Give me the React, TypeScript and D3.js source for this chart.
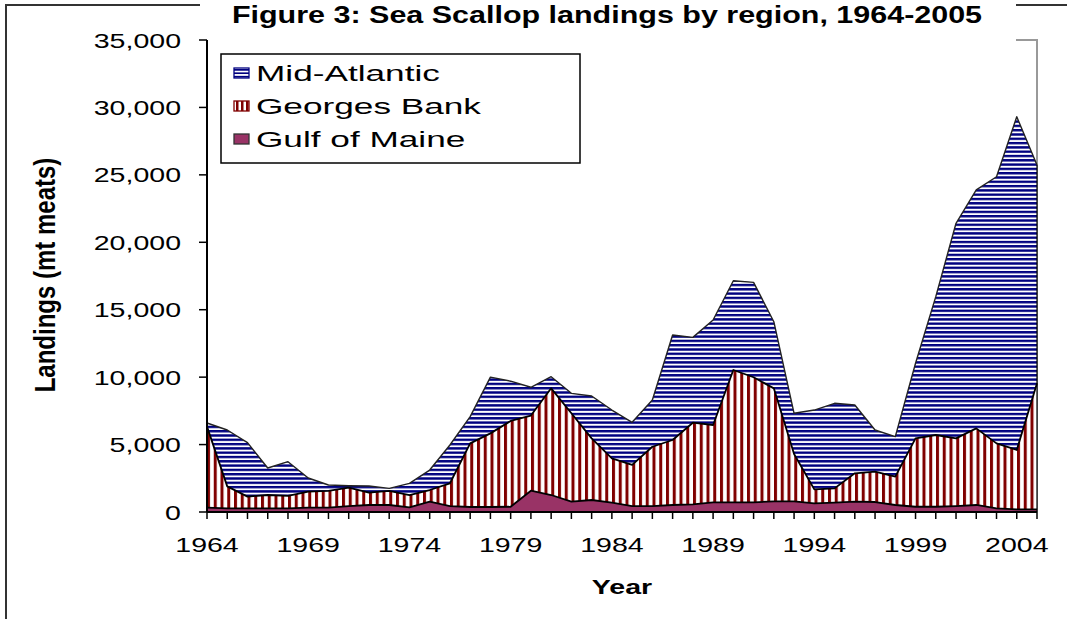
import React from "react";
import * as d3 from "d3";

// landings in metric tons of meats
const years = d3.range(1964, 2006);
const gulfOfMaine = [320, 270, 270, 270, 270, 320, 320, 440, 520, 520, 350, 770, 440, 370, 370, 390, 1580, 1260, 770, 890, 690, 440, 440, 520, 570, 720, 720, 720, 790, 790, 640, 690, 770, 740, 520, 390, 390, 440, 520, 270, 200, 200];
const georgesBank = [6010, 1630, 870, 990, 920, 1190, 1240, 1360, 910, 1040, 910, 860, 1690, 4720, 5460, 6360, 5570, 7910, 6550, 4570, 3290, 3050, 4400, 4820, 6050, 5730, 9810, 9270, 8380, 3510, 1040, 1060, 2100, 2250, 2100, 5070, 5320, 5020, 5680, 4820, 4400, 9340];
const midAtlantic = [270, 4180, 4000, 2000, 2540, 1010, 440, 150, 500, 190, 860, 1480, 2840, 1980, 4170, 2950, 2100, 860, 1480, 3140, 3580, 3160, 3460, 7780, 6330, 7790, 6620, 7040, 4940, 3020, 5880, 6310, 5060, 3090, 2970, 5570, 10260, 15950, 17680, 19770, 24710, 16190];
const seriesKeys = ["gulf", "georges", "mid"];
const legendLabels = ["Mid-Atlantic", "Georges Bank", "Gulf of Maine"];
const yearLabels = [1964, 1969, 1974, 1979, 1984, 1989, 1994, 1999, 2004];

const W = 1067;
const H = 619;
const left = 207, right = 1037, top = 40, bottom = 512;
const font = "'Liberation Sans', Arial, sans-serif";
const sx = 1.36; // the original is stretched sideways

export default function App() {
  const rows = years.map((yr, i) => ({ year: yr, gulf: gulfOfMaine[i], georges: georgesBank[i], mid: midAtlantic[i] }));
  const stack = d3.stack<any>().keys(seriesKeys)(rows);

  const x = d3.scaleLinear().domain([1964, 2005]).range([left, right]);
  const y = d3.scaleLinear().domain([0, 35000]).range([bottom, top]);

  const area = d3.area<any>()
    .x((d) => x(d.data.year))
    .y0((d) => y(d[0]))
    .y1((d) => y(d[1]));
  const topLine = d3.line<any>()
    .x((d) => x(d.data.year))
    .y((d) => y(d[1]));

  const fills = ["#993366", "url(#vstripe)", "url(#hstripe)"];
  const fmt = d3.format(",");

  return (
    <svg width={W} height={H} style={{ position: "absolute", left: 0, top: 0, background: "#fff" }}>
      <defs>
        <pattern id="hstripe" patternUnits="userSpaceOnUse" width={8} height={4.3}>
          <rect width={8} height={4.3} fill="#fff" />
          <rect width={8} height={2.4} fill="#000080" />
        </pattern>
        <pattern id="vstripe" patternUnits="userSpaceOnUse" width={6.75} height={8} x={left}>
          <rect width={6.75} height={8} fill="#fff" />
          <rect width={3} height={8} fill="#800000" />
        </pattern>
        <pattern id="hstripeSm" patternUnits="userSpaceOnUse" width={8} height={3.4} y={1}>
          <rect width={8} height={3.4} fill="#fff" />
          <rect width={8} height={1.7} fill="#000080" />
        </pattern>
        <pattern id="vstripeSm" patternUnits="userSpaceOnUse" width={5} height={8} x={1}>
          <rect width={5} height={8} fill="#fff" />
          <rect width={2.5} height={8} fill="#800000" />
        </pattern>
      </defs>

      {/* outer frame */}
      <path d={`M6,619 V5 H200 M1016,5 H1067`} fill="none" stroke="#333" strokeWidth={2} />
      <text transform={`translate(607,23) scale(1.27,1)`} textAnchor="middle" fontFamily={font} fontWeight="bold" fontSize={24} fill="#000">
        Figure 3: Sea Scallop landings by region, 1964-2005
      </text>

      {/* plot area border remnant */}
      <path d={`M1016,${top} H${right} V${bottom}`} fill="none" stroke="#999" strokeWidth={2} />

      {stack.map((s, i) => (
        <path key={s.key} d={area(s) || ""} fill={fills[i]} />
      ))}
      {stack.map((s, i) => (
        <path key={"l" + s.key} d={topLine(s) || ""} fill="none" stroke={i === 2 ? "#222" : "#000"} strokeWidth={i === 2 ? 1.4 : 1.8} strokeLinejoin="round" />
      ))}
      <line x1={right} x2={right} y1={y(0)} y2={y(midAtlantic[41] + georgesBank[41] + gulfOfMaine[41])} stroke="#000" strokeWidth={1.2} />

      {/* y axis */}
      <line x1={left} x2={left} y1={top} y2={bottom} stroke="#000" strokeWidth={2} />
      {y.ticks(7).map((t) => (
        <g key={t}>
          <line x1={left - 8} x2={left} y1={y(t)} y2={y(t)} stroke="#000" strokeWidth={1.5} />
          <text transform={`translate(${left - 26},${y(t) + 7.5}) scale(${sx},1)`} textAnchor="end" fontFamily={font} fontSize={21} fill="#000">
            {fmt(t)}
          </text>
        </g>
      ))}
      <text transform={`translate(55,275) rotate(-90) scale(1,1.2)`} textAnchor="middle" fontFamily={font} fontWeight="bold" fontSize={24} fill="#000">
        Landings (mt meats)
      </text>

      {/* x axis */}
      <line x1={left} x2={right} y1={bottom} y2={bottom} stroke="#000" strokeWidth={2} />
      {years.map((yr) => (
        <line key={yr} x1={x(yr)} x2={x(yr)} y1={bottom} y2={bottom + 7} stroke="#000" strokeWidth={1.5} />
      ))}
      {yearLabels.map((yr) => (
        <text key={yr} transform={`translate(${x(yr)},${552}) scale(${sx},1)`} textAnchor="middle" fontFamily={font} fontSize={21} fill="#000">
          {yr}
        </text>
      ))}
      <text transform={`translate(622,594) scale(${sx},1)`} textAnchor="middle" fontFamily={font} fontWeight="bold" fontSize={21} fill="#000">
        Year
      </text>

      {/* legend */}
      <rect x={221} y={54} width={359} height={109} fill="#fff" stroke="#000" strokeWidth={1.5} />
      {legendLabels.map((lab, i) => {
        const cy = 73 + i * 33;
        const sw = ["url(#hstripeSm)", "url(#vstripeSm)", "#993366"][i];
        const bc = ["#000080", "#800000", "#333"][i];
        return (
          <g key={lab}>
            <rect x={234} y={cy - 5} width={15} height={10} fill={sw} stroke={bc} strokeWidth={1.3} />
            <text transform={`translate(256,${cy + 7.5}) scale(1.6,1)`} fontFamily={font} fontSize={22} fill="#000">
              {lab}
            </text>
          </g>
        );
      })}
    </svg>
  );
}
